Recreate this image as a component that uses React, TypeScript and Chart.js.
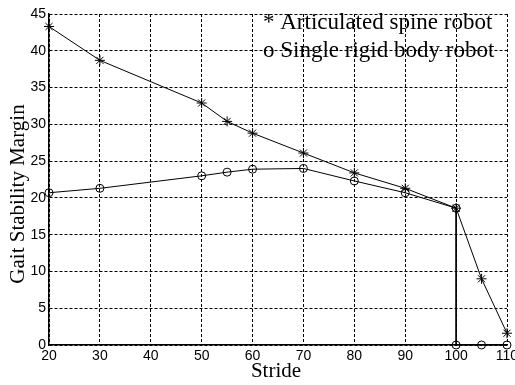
import React, { useEffect, useRef } from "react";
import { Chart, registerables } from "chart.js";
Chart.register(...registerables);

const strideA = [20, 30, 50, 55, 60, 70, 80, 90, 100, 105, 110];
const articulated = [43.3, 38.7, 32.9, 30.4, 28.8, 26.1, 23.4, 21.3, 18.6, 9.0, 1.6];
const strideR = [20, 30, 50, 55, 60, 70, 80, 90, 100, 100, 105, 110];
const rigid = [20.7, 21.3, 23.0, 23.5, 23.9, 24.0, 22.3, 20.7, 18.6, 0, 0, 0];
const legendLabels = ["* Articulated spine robot", "o Single rigid body robot"];
const xTitle = "Stride";
const yTitle = "Gait Stability Margin";

const textPlugin = {
  id: "texts",
  afterDraw(chart: any) {
    const ctx = chart.ctx;
    ctx.save();
    ctx.fillStyle = "#000";
    ctx.font = "23px 'Liberation Serif'";
    ctx.textBaseline = "alphabetic";
    ctx.textAlign = "left";
    ctx.fillText(legendLabels[0], 263, 29);
    ctx.fillText(legendLabels[1], 263, 57);
    ctx.textAlign = "center";
    ctx.font = "21px 'Liberation Serif'";
    ctx.fillText(xTitle, 276, 377);
    ctx.translate(24, 194);
    ctx.rotate(-Math.PI / 2);
    ctx.font = "21px 'Liberation Serif'";
    ctx.fillText(yTitle, 0, 0);
    ctx.restore();
  },
};

export default function App() {
  const ref = useRef<HTMLCanvasElement>(null);
  useEffect(() => {
    document.body.style.margin = "0";
    const chart = new Chart(ref.current!, {
      type: "scatter",
      data: {
        datasets: [
          {
            label: "Articulated spine robot",
            data: strideA.map((x, i) => ({ x, y: articulated[i] })),
            showLine: true,
            borderColor: "#000",
            borderWidth: 1,
            pointStyle: "star",
            pointRadius: 5,
            pointBorderColor: "#000",
            pointBorderWidth: 1,
            backgroundColor: "rgba(0,0,0,0)",
            clip: 6,
          },
          {
            label: "Single rigid body robot",
            data: strideR.map((x, i) => ({ x, y: rigid[i] })),
            showLine: true,
            borderColor: "#000",
            borderWidth: 1,
            pointStyle: "circle",
            pointRadius: 4,
            pointBorderColor: "#000",
            pointBorderWidth: 1,
            backgroundColor: "rgba(0,0,0,0)",
            clip: 6,
          },
        ],
      },
      options: {
        responsive: false,
        animation: false,
        layout: { padding: { top: 14, right: 8, left: 0, bottom: 0 } },
        plugins: { legend: { display: false }, tooltip: { enabled: false } },
        scales: {
          x: {
            type: "linear",
            min: 20,
            max: 110,
            ticks: {
              stepSize: 10,
              autoSkip: false,
              maxRotation: 0,
              color: "#000",
              padding: 3,
              font: { family: "'Liberation Sans'", size: 14 },
            },
            grid: { color: "#000", lineWidth: 1, drawTicks: false },
            border: { display: true, color: "#000", width: 1.5, dash: [3, 2] },
            afterFit(scale: any) {
              scale.height = 40;
              scale.paddingLeft = 0;
              scale.paddingRight = 0;
            },
          },
          y: {
            type: "linear",
            min: 0,
            max: 45,
            ticks: {
              stepSize: 5,
              color: "#000",
              padding: 3,
              font: { family: "'Liberation Sans'", size: 14 },
            },
            grid: { color: "#000", lineWidth: 1, drawTicks: false },
            border: { display: true, color: "#000", width: 1.5, dash: [3, 2] },
            afterFit(scale: any) {
              scale.width = 49;
              scale.paddingTop = 0;
              scale.paddingBottom = 0;
            },
          },
        },
      },
      plugins: [textPlugin],
    });
    return () => chart.destroy();
  }, []);
  return (
    <div style={{ position: "absolute", left: 0, top: 0, width: 515, height: 385, background: "#fff" }}>
      <canvas ref={ref} width={515} height={385} />
    </div>
  );
}
